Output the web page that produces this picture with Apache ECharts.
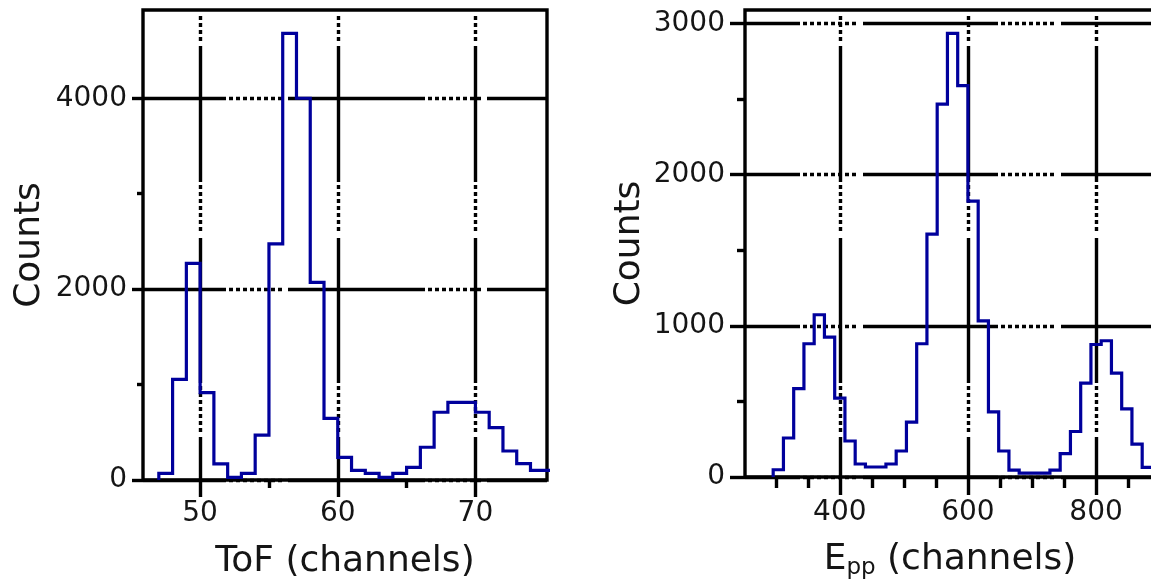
<!DOCTYPE html>
<html>
<head>
<meta charset="utf-8">
<script src="https://cdn.jsdelivr.net/npm/echarts@6/dist/echarts.min.js"></script>
<style>
  html, body { margin: 0; padding: 0; background: #ffffff; }
  #chart { width: 1151px; height: 583px; }
</style>
</head>
<body>
<div id="chart"></div>
<script>
// ---- Left panel: time-of-flight spectrum (bin start channel, counts per bin) ----
const tofChannels = [47, 48, 49, 50, 51, 52, 53, 54, 55, 56, 57, 58, 59, 60, 61,
                     62, 63, 64, 65, 66, 67, 68, 69, 70, 71, 72, 73, 74, 75];
const tofCounts   = [70, 1055, 2270, 915, 170, 28, 70, 470, 2475, 4680, 4000, 2070, 645, 238, 100,
                     70, 28, 70, 133, 343, 710, 814, 814, 710, 548, 304, 171, 101, 101];
const tofBinWidth = 1;
const tofMajorTicks = [50, 60, 70];
const tofMinorTicks = [55, 65];
const tofCountTicks = [0, 2000, 4000];
const tofCountMinor = [1000, 3000];

// ---- Right panel: E_pp spectrum (bin start channel, counts per bin) ----
const eppChannels = [296, 312, 328, 344, 360, 376, 392, 408, 424, 440,
                     456, 472, 488, 504, 520, 536, 552, 568, 584, 600,
                     616, 632, 648, 664, 680, 696, 712, 728, 744, 760,
                     776, 792, 808, 824, 840, 856, 872];
const eppCounts   = [48, 258, 584, 881, 1073, 925, 522, 238, 86, 66,
                     66, 86, 172, 363, 881, 1606, 2465, 2934, 2588, 1824,
                     1033, 430, 172, 46, 26, 26, 26, 46, 154, 301,
                     621, 876, 901, 687, 451, 218, 63];
const eppBinWidth = 16;
const eppMajorTicks = [400, 600, 800];
const eppMinorTicks = [300, 350, 450, 500, 550, 650, 700, 750, 850];
const eppCountTicks = [0, 1000, 2000, 3000];
const eppCountMinor = [500, 1500, 2500];

// Histogram outline: rise from zero at the first edge, one point per bin, close at the last edge.
function stepPoints(channels, counts, width) {
  const pts = [[channels[0], 0]];
  channels.forEach((c, i) => pts.push([c, counts[i]]));
  pts.push([channels[channels.length - 1] + width, counts[counts.length - 1]]);
  return pts;
}

// Grid-line dash pattern built from runs of solid and dotted stroke (pixel lengths).
const DOT = 4, DOT_GAP = 3;
function dashPattern(segments) {
  const out = [];
  let gap = 0;
  const flushGap = () => {
    if (gap <= 0) return;
    if (out.length === 0) out.push(0, gap);
    else if (out.length % 2 === 0) out[out.length - 1] += gap;
    else out.push(gap);
    gap = 0;
  };
  const dash = (len) => {
    flushGap();
    if (out.length % 2 === 1) out[out.length - 1] += len;
    else out.push(len);
  };
  segments.forEach(([kind, len]) => {
    if (kind === 'gap') gap += len;
    else if (kind === 'solid') dash(len);
    else {
      const n = Math.floor((len - DOT_GAP) / (DOT + DOT_GAP));
      for (let i = 0; i < n; i++) { gap += DOT_GAP; dash(DOT); }
      gap += len - n * (DOT + DOT_GAP);
    }
  });
  if (out.length % 2 === 1) out.push(Math.max(gap, 0));
  return out;
}

const verticalGrid = dashPattern([
  ['gap', 3], ['dot', 33], ['solid', 136], ['dot', 56],
  ['solid', 145], ['dot', 54], ['solid', 2000]
]);
const tofHorizontalGrid = dashPattern([
  ['solid', 83], ['dot', 62], ['solid', 137], ['dot', 62], ['solid', 2000]
]);
const eppHorizontalGrid = dashPattern([
  ['solid', 55], ['dot', 63], ['solid', 135], ['dot', 63], ['solid', 2000]
]);

const FONT = "'DejaVu Sans', 'Liberation Sans', Arial, sans-serif";
const INK = '#000000';
const TEXT = '#151515';
const LINE_BLUE = '#00009c';
const RULE_W = 3.4;

function mainAxis(opts) {
  return {
    type: 'value',
    gridIndex: opts.grid,
    position: opts.position,
    min: opts.min,
    max: opts.max,
    name: opts.name,
    nameLocation: 'middle',
    nameGap: opts.nameGap,
    nameMoveOverlap: false,
    nameTextStyle: Object.assign({
      fontFamily: FONT, fontSize: 36, color: TEXT
    }, opts.nameStyle || {}),
    axisLine: { show: false },
    axisTick: {
      show: true, inside: false, length: opts.tickLen,
      customValues: opts.ticks,
      lineStyle: { color: INK, width: RULE_W }
    },
    axisLabel: {
      show: true, margin: opts.labelMargin,
      customValues: opts.ticks,
      formatter: (v) => String(v),
      fontFamily: FONT, fontSize: 28, color: TEXT
    },
    splitLine: {
      show: true,
      lineStyle: { color: INK, width: RULE_W, type: opts.dash, cap: 'butt' }
    },
    minorTick: { show: false },
    minorSplitLine: { show: false }
  };
}

function minorAxis(opts) {
  return {
    type: 'value',
    gridIndex: opts.grid,
    position: opts.position,
    min: opts.min,
    max: opts.max,
    axisLine: { show: false },
    axisTick: {
      show: true, inside: false, length: opts.tickLen,
      customValues: opts.ticks,
      lineStyle: { color: INK, width: RULE_W }
    },
    axisLabel: { show: false },
    splitLine: { show: false }
  };
}

const TOF_X = [45.85, 75.2], TOF_Y = [0, 4925];
const EPP_X = [252, 892],    EPP_Y = [0, 3088];

const option = {
  animation: false,
  backgroundColor: '#ffffff',
  grid: [
    { left: 143, top: 10, width: 404, height: 470, show: true,
      borderColor: INK, borderWidth: RULE_W, backgroundColor: 'transparent',
      containLabel: false, outerBoundsMode: 'none' },
    { left: 745, top: 10, width: 410, height: 467, show: true,
      borderColor: INK, borderWidth: RULE_W, backgroundColor: 'transparent',
      containLabel: false, outerBoundsMode: 'none' }
  ],
  xAxis: [
    mainAxis({ grid: 0, position: 'bottom', min: TOF_X[0], max: TOF_X[1],
      name: 'ToF (channels)', nameGap: 64, tickLen: 17, labelMargin: 20,
      ticks: tofMajorTicks, dash: verticalGrid }),
    mainAxis({ grid: 1, position: 'bottom', min: EPP_X[0], max: EPP_X[1],
      name: '{e|E}{sub|pp} (channels)', nameGap: 63, tickLen: 18, labelMargin: 22,
      ticks: eppMajorTicks, dash: verticalGrid,
      nameStyle: {
        lineHeight: 40,
        rich: {
          e: { fontFamily: FONT, fontSize: 36, color: TEXT, lineHeight: 40 },
          sub: { fontFamily: FONT, fontSize: 23, color: TEXT, lineHeight: 18,
                 verticalAlign: 'bottom' }
        }
      } }),
    minorAxis({ grid: 0, position: 'bottom', min: TOF_X[0], max: TOF_X[1],
      tickLen: 8, ticks: tofMinorTicks }),
    minorAxis({ grid: 1, position: 'bottom', min: EPP_X[0], max: EPP_X[1],
      tickLen: 11, ticks: eppMinorTicks })
  ],
  yAxis: [
    mainAxis({ grid: 0, position: 'left', min: TOF_Y[0], max: TOF_Y[1],
      name: 'Counts', nameGap: 95, tickLen: 11, labelMargin: 16,
      ticks: tofCountTicks, dash: tofHorizontalGrid }),
    mainAxis({ grid: 1, position: 'left', min: EPP_Y[0], max: EPP_Y[1],
      name: 'Counts', nameGap: 97, tickLen: 15, labelMargin: 20,
      ticks: eppCountTicks, dash: eppHorizontalGrid }),
    minorAxis({ grid: 0, position: 'left', min: TOF_Y[0], max: TOF_Y[1],
      tickLen: 6, ticks: tofCountMinor }),
    minorAxis({ grid: 1, position: 'left', min: EPP_Y[0], max: EPP_Y[1],
      tickLen: 8, ticks: eppCountMinor })
  ],
  series: [
    {
      type: 'line', xAxisIndex: 0, yAxisIndex: 0,
      step: 'end', showSymbol: false, symbol: 'none', clip: true,
      lineStyle: { color: LINE_BLUE, width: 3.2, join: 'miter' },
      data: stepPoints(tofChannels, tofCounts, tofBinWidth),
      z: 5
    },
    {
      type: 'line', xAxisIndex: 1, yAxisIndex: 1,
      step: 'end', showSymbol: false, symbol: 'none', clip: true,
      lineStyle: { color: LINE_BLUE, width: 3.2, join: 'miter' },
      data: stepPoints(eppChannels, eppCounts, eppBinWidth),
      z: 5
    }
  ]
};

const chart = echarts.init(document.getElementById('chart'), null, { renderer: 'canvas' });
chart.setOption(option);
</script>
</body>
</html>
